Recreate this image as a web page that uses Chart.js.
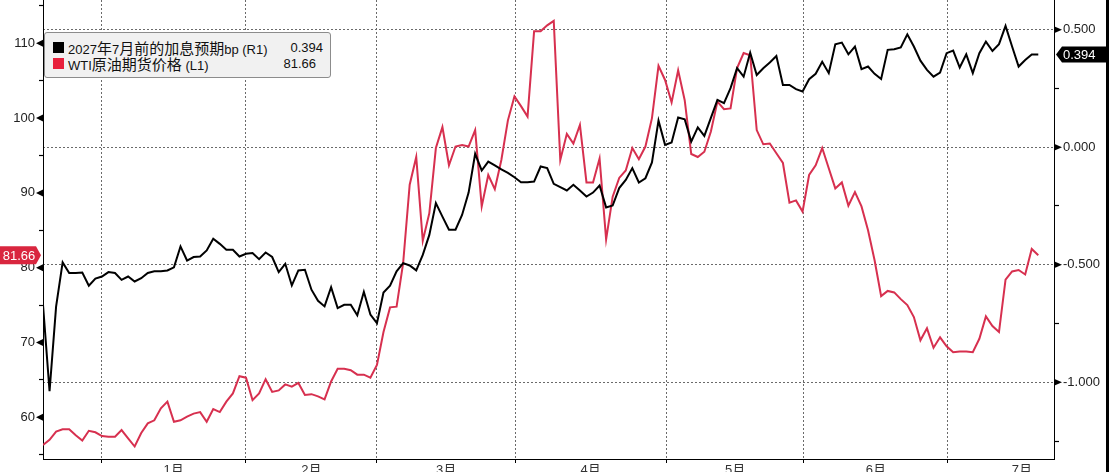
<!DOCTYPE html>
<html>
<head>
<meta charset="utf-8">
<script src="https://cdn.jsdelivr.net/npm/chart.js@4.4.1/dist/chart.umd.min.js"></script>
<style>
html,body{margin:0;padding:0;background:#fff;overflow:hidden}
#wrap{position:relative;width:1109px;height:472px}
#c{position:absolute;left:0;top:0}
#legend{position:absolute;left:44px;top:32px;width:285px;height:44px;background:#f1f1f1;border:1px solid #8c8c8c;border-radius:3px;font-family:"Liberation Sans","Noto Sans CJK SC",sans-serif;font-size:13px;color:#111}
.row{position:absolute;left:0;right:0;height:16px;line-height:16px}
.sw{position:absolute;left:8px;top:2px;width:11px;height:11px}
.lb{position:absolute;left:23px;top:0;white-space:nowrap}
.lb .cjk{font-family:"Noto Sans CJK SC",sans-serif;font-size:15px;line-height:16px}
.val{position:absolute;top:0;white-space:nowrap}
</style>
</head>
<body>
<div id="wrap">
<canvas id="c" width="1109" height="472"></canvas>
<div id="legend">
  <div class="row" style="top:7px"><span class="sw" style="background:#000"></span><span class="lb" id="lb1"></span><span class="val" id="v1" style="right:7px"></span></div>
  <div class="row" style="top:23px"><span class="sw" style="background:#e8203c"></span><span class="lb" id="lb2"></span><span class="val" id="v2" style="right:14px"></span></div>
</div>
</div>
<script>
// ---------- DATA ----------
const seriesNames = ['2027年7月前的加息预期bp (R1)', 'WTI原油期货价格 (L1)'];
const months = ['1月','2月','3月','4月','5月','6月','7月'];
// positions (in trading-day index) of month label centres and month boundaries
const monthLabelPos = [19.95, 41.0, 61.55, 83.65, 105.7, 127.2, 149.5];
const monthBoundaries = [8.9, 31.0, 51.0, 72.1, 95.2, 116.2, 138.2];
const leftMajorTicks = [60, 70, 80, 90, 100, 110];
const rightMajorTicks = [-1.0, -0.5, 0.0, 0.5];

// WTI crude futures price (left axis)
const oilPrice = [
  56.3,57.0,58.1,58.4,58.4,57.6,56.9,58.2,58.0,57.5,
  57.4,57.4,58.3,57.2,56.1,57.9,59.2,59.6,61.2,62.1,
  59.4,59.6,60.1,60.5,60.7,59.4,61.1,60.7,62.1,63.2,
  65.5,65.3,62.3,63.2,65.1,63.4,63.6,64.4,64.1,64.6,
  63.0,63.1,62.8,62.4,64.8,66.5,66.5,66.3,65.7,65.7,
  65.3,67.0,71.4,74.7,74.8,80.6,91.1,94.8,83.6,87.3,
  96.0,98.8,93.7,96.2,96.4,96.2,98.4,88.2,92.4,90.5,
  94.4,99.7,102.9,101.6,100.2,111.6,111.6,112.4,113.0,94.4,
  97.9,96.6,99.1,91.4,91.4,94.6,83.8,89.5,92.0,93.0,
  96.0,94.5,96.2,100.0,107.0,105.1,102.1,106.4,102.4,95.2,
  94.8,95.5,98.2,102.2,101.2,101.3,106.7,108.7,108.4,98.4,
  96.5,96.6,95.3,94.0,88.7,89.0,87.5,92.4,93.7,96.0,
  93.3,90.6,91.4,88.3,90.1,88.2,85.0,81.0,76.2,76.9,
  76.7,75.8,75.0,73.4,70.3,71.9,69.3,70.7,69.5,68.7,
  68.8,68.8,68.7,70.5,73.5,72.2,71.4,78.4,79.5,79.7,
  79.1,82.5,81.66
];
// rate-hike expectation before Jul 2027, bp (right axis)
const hikeBp = [
  -0.670,-1.038,-0.678,-0.490,-0.535,-0.535,-0.533,-0.589,-0.559,-0.550,
  -0.531,-0.535,-0.564,-0.550,-0.571,-0.557,-0.535,-0.528,-0.528,-0.524,
  -0.511,-0.422,-0.482,-0.467,-0.465,-0.439,-0.389,-0.411,-0.436,-0.436,
  -0.465,-0.453,-0.450,-0.476,-0.448,-0.467,-0.531,-0.496,-0.588,-0.524,
  -0.521,-0.606,-0.653,-0.677,-0.595,-0.684,-0.670,-0.670,-0.715,-0.615,
  -0.712,-0.748,-0.618,-0.589,-0.528,-0.493,-0.503,-0.524,-0.458,-0.373,
  -0.238,-0.295,-0.351,-0.351,-0.288,-0.193,-0.028,-0.099,-0.061,-0.077,
  -0.094,-0.109,-0.128,-0.149,-0.149,-0.146,-0.082,-0.089,-0.156,-0.170,
  -0.184,-0.160,-0.184,-0.210,-0.193,-0.163,-0.256,-0.248,-0.174,-0.139,
  -0.089,-0.150,-0.132,-0.065,0.113,0.010,0.020,0.126,0.119,0.024,
  0.084,0.048,0.125,0.201,0.187,0.251,0.336,0.300,0.402,0.307,
  0.336,0.360,0.388,0.265,0.265,0.247,0.237,0.289,0.312,0.363,
  0.315,0.438,0.445,0.395,0.428,0.332,0.343,0.312,0.290,0.414,
  0.417,0.424,0.480,0.428,0.368,0.329,0.300,0.317,0.400,0.411,
  0.339,0.395,0.315,0.400,0.449,0.409,0.438,0.516,0.428,0.343,
  0.371,0.394,0.394
];

// ---------- STYLE ----------
const FONT = '"Liberation Sans","Noto Sans CJK SC",sans-serif';
const RED = '#d7304f';
const GRID = '#6a6a6a';
const near = (a, b) => Math.abs(a - b) < 1e-6;
const isIn = (arr, v) => arr.some(a => near(a, v));

const lastOil = oilPrice[oilPrice.length - 1];
const lastHike = hikeBp[hikeBp.length - 1];
function setLabel(id, text) {
  const el = document.getElementById(id);
  text.split(/([\u3400-\u9fff]+)/).forEach(part => {
    if (!part) return;
    if (/[\u3400-\u9fff]/.test(part)) {
      const s = document.createElement('span'); s.className = 'cjk'; s.textContent = part; el.appendChild(s);
    } else {
      el.appendChild(document.createTextNode(part));
    }
  });
}
setLabel('lb1', seriesNames[0]);
setLabel('lb2', seriesNames[1]);
document.getElementById('v1').textContent = lastHike.toFixed(3);
document.getElementById('v2').textContent = lastOil.toFixed(2);

const decor = {
  id: 'decor',
  afterDraw(chart) {
    const ctx = chart.ctx;
    const yL = chart.scales.yL, yR = chart.scales.yR;
    const L = chart.chartArea.left, R = chart.chartArea.right;
    ctx.save();
    ctx.fillStyle = '#000';
    leftMajorTicks.forEach(v => {
      const p = yL.getPixelForValue(v);
      ctx.beginPath(); ctx.moveTo(L - 7, p); ctx.lineTo(L, p - 3.5); ctx.lineTo(L, p + 3.5); ctx.closePath(); ctx.fill();
    });
    rightMajorTicks.forEach(v => {
      const p = yR.getPixelForValue(v);
      ctx.beginPath(); ctx.moveTo(R + 8, p); ctx.lineTo(R, p - 3.5); ctx.lineTo(R, p + 3.5); ctx.closePath(); ctx.fill();
    });
    // red value tag on left axis
    let p = yL.getPixelForValue(lastOil);
    ctx.fillStyle = '#d9263f';
    ctx.beginPath(); ctx.moveTo(0, p - 9); ctx.lineTo(36, p - 9); ctx.lineTo(41, p); ctx.lineTo(36, p + 9); ctx.lineTo(0, p + 9); ctx.closePath(); ctx.fill();
    ctx.fillStyle = '#fff'; ctx.font = '13px ' + FONT; ctx.textAlign = 'center'; ctx.textBaseline = 'middle';
    ctx.fillText(lastOil.toFixed(2), 19, p + 1);
    // black value tag on right axis
    p = yR.getPixelForValue(lastHike);
    ctx.fillStyle = '#000';
    ctx.beginPath(); ctx.moveTo(R + 2, p); ctx.lineTo(R + 8, p - 8); ctx.lineTo(1106, p - 8); ctx.lineTo(1106, p + 8); ctx.lineTo(R + 8, p + 8); ctx.closePath(); ctx.fill();
    ctx.fillStyle = '#fff'; ctx.textAlign = 'left';
    ctx.fillText(lastHike.toFixed(3), 1063, p + 1);
    // frame strip on the far right
    ctx.fillStyle = '#000';
    ctx.fillRect(1106, 0, 3, 472);
    ctx.restore();
  }
};

const xTicks = [...monthBoundaries, ...monthLabelPos].sort((a, b) => a - b);
const noPad = s => { s.paddingTop = 0; s.paddingBottom = 0; s.paddingLeft = 0; s.paddingRight = 0; };

new Chart(document.getElementById('c'), {
  type: 'line',
  data: {
    datasets: [
      {
        label: seriesNames[0], yAxisID: 'yR',
        data: hikeBp.map((v, i) => ({x: i, y: v})),
        borderColor: '#000', borderWidth: 2, pointRadius: 0, tension: 0, order: 0
      },
      {
        label: seriesNames[1], yAxisID: 'yL',
        data: oilPrice.map((v, i) => ({x: i, y: v})),
        borderColor: RED, borderWidth: 2, pointRadius: 0, tension: 0, order: 1
      }
    ]
  },
  options: {
    responsive: false, animation: false, devicePixelRatio: 1,
    layout: {padding: 0},
    plugins: {legend: {display: false}, tooltip: {enabled: false}},
    scales: {
      x: {
        type: 'linear', min: 0, max: 154.4, position: 'bottom',
        afterBuildTicks: s => { s.ticks = xTicks.map(v => ({value: v})); },
        afterFit: s => { s.height = 13; noPad(s); },
        ticks: {
          autoSkip: false, maxRotation: 0, minRotation: 0, padding: 0,
          font: {family: FONT, size: 13}, color: '#333',
          callback: v => { const k = monthLabelPos.findIndex(a => near(a, v)); return k >= 0 ? months[k] : ''; }
        },
        grid: {
          drawOnChartArea: true, drawTicks: true, tickLength: 4, lineWidth: 1,
          color: c => (c.tick && isIn(monthBoundaries, c.tick.value)) ? GRID : 'rgba(0,0,0,0)',
          tickColor: c => (c.tick && isIn(monthBoundaries, c.tick.value)) ? '#000' : 'rgba(0,0,0,0)',
          tickBorderDash: []
        },
        border: {display: true, color: '#000', width: 1, dash: [2, 2]}
      },
      yL: {
        type: 'linear', position: 'left', min: 54.43, max: 115.79,
        afterFit: s => { s.width = 43; noPad(s); },
        ticks: {
          stepSize: 5, includeBounds: false, padding: 4,
          font: {family: FONT, size: 13}, color: '#222',
          callback: v => isIn(leftMajorTicks, v) ? String(Math.round(v)) : ''
        },
        grid: {drawOnChartArea: false, drawTicks: true, tickLength: 4, tickColor: '#000', tickWidth: 1.2},
        border: {display: true, color: '#000', width: 1}
      },
      yR: {
        type: 'linear', position: 'right', min: -1.326, max: 0.626,
        afterFit: s => { s.width = 55; noPad(s); },
        ticks: {
          stepSize: 0.25, includeBounds: false, padding: 4,
          font: {family: FONT, size: 13}, color: '#222',
          callback: v => isIn(rightMajorTicks, v) ? v.toFixed(3) : ''
        },
        grid: {
          drawOnChartArea: true, drawTicks: true, tickLength: 5, lineWidth: 1,
          color: c => (c.tick && isIn(rightMajorTicks, c.tick.value)) ? GRID : 'rgba(0,0,0,0)',
          tickColor: '#000', tickWidth: 1.2, tickBorderDash: []
        },
        border: {display: true, color: '#000', width: 1, dash: [2, 2]}
      }
    }
  },
  plugins: [decor]
});
</script>
</body>
</html>
